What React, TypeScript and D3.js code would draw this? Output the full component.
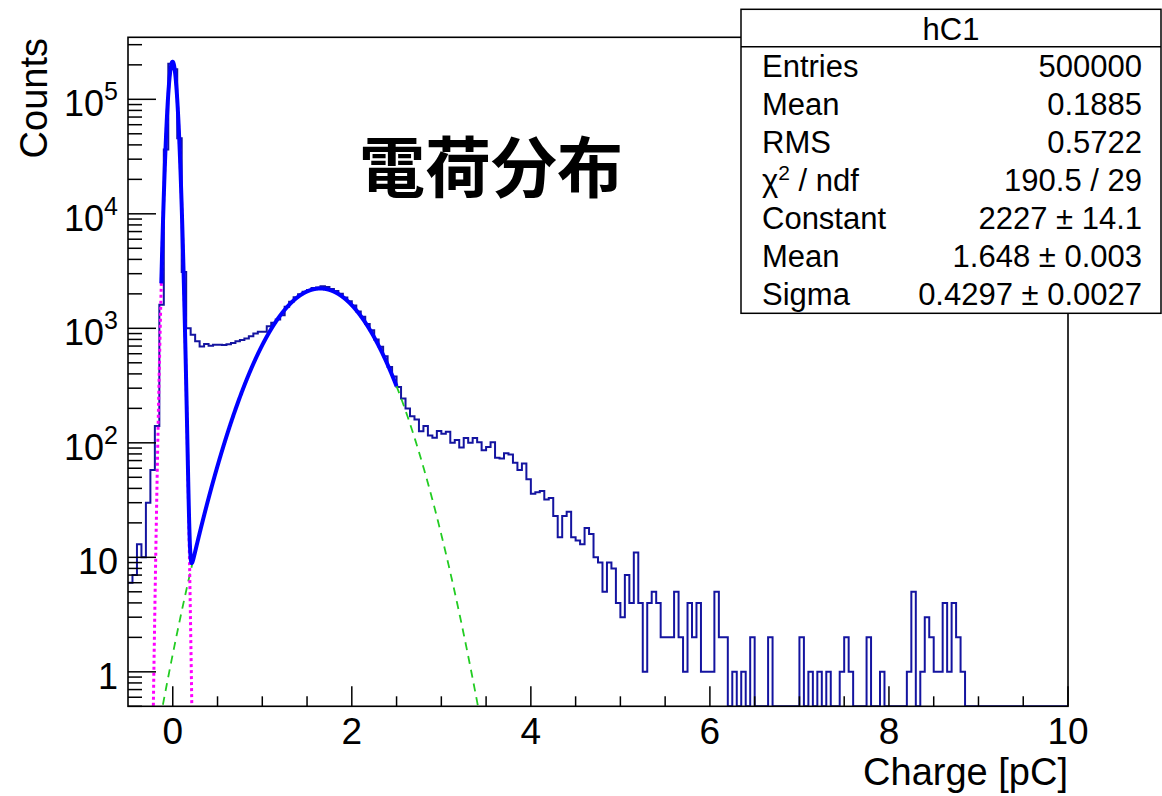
import React from 'react';
import * as d3 from 'd3';

const WIDTH = 1162;
const HEIGHT = 796;

// histogram binning
const X_MIN = -0.5;
const X_MAX = 10;
const BIN_WIDTH = 0.05;
const Y_MIN = 0.5;
const Y_MAX = 3.48e5;

// bin contents (210 bins of 0.05 pC from -0.5 to 10)
const countsPedestal = [6, 7, 13, 10, 30, 58, 140, 1610, 36500, 204000, 183000, 45600, 3110, 1000];
const countsValley = [880, 770, 695, 730, 705, 718, 720, 715, 725, 745, 770, 790, 815, 853, 901, 932, 935, 1044, 1116, 1195, 1300];
const countsSignal = [1540, 1710, 1870, 1980, 2090, 2160, 2250, 2270, 2335, 2290, 2210, 2120, 2000, 1860, 1720, 1580, 1400, 1260, 1090, 960, 800, 690, 570, 460, 380];
const countsShoulder = [308, 244, 199, 171, 160, 126, 140, 116, 111, 127, 120, 125, 100, 106, 91, 110, 100, 110, 101, 86, 92, 101, 74, 73, 81, 79, 67, 58, 66, 48, 36, 37, 38, 32, 33, 23, 15, 23, 25, 15, 14, 13, 18, 16, 10];
const countsTailA = [9, 5, 9, 8, 4, 3, 7, 4, 11, 4, 1, 4, 5, 4, 2, 2, 2, 5, 2, 1, 4, 2, 4, 1, 1];
const countsTailB = [1, 5, 2, 2, 0, 1, 0, 1, 0, 2, 0, 0, 0, 2, 0, 0, 0, 0, 0, 0, 2, 0, 1, 0, 1, 0, 1, 0, 0, 1];
const countsTailC = [2, 1, 0, 0, 0, 2, 0, 0, 1, 0, 0, 0, 0, 0, 1, 5, 0, 1, 3, 2, 1, 1, 4, 1, 4, 2, 1];
const countsTailD = [0, 0, 0, 0, 0, 0, 0, 0, 0, 0, 0, 0, 0, 0, 0, 0, 0, 0, 0, 0, 0, 0, 0];

const counts = [
  ...countsPedestal, ...countsValley, ...countsSignal, ...countsShoulder,
  ...countsTailA, ...countsTailB, ...countsTailC, ...countsTailD,
];

// fit parameters: [constant, mean, sigma]
const pedestalFit = [213000, -0.002, 0.0422];
const signalFit = [2227, 1.648, 0.4297];
const totalFitRange = [-0.128, 2.5];
const pedestalDrawRange = [-0.3, 0.3];
const signalDrawRange = [-0.25, 3.7];

// axes
const xMajorTicks = [0, 2, 4, 6, 8, 10];
const xMinorTicks = [0.5, 1, 1.5, 2.5, 3, 3.5, 4.5, 5, 5.5, 6.5, 7, 7.5, 8.5, 9, 9.5];
const yDecades = [0.1, 1, 10, 100, 1000, 10000, 100000];
const yLabelValues = [1, 10, 100, 1000, 10000, 100000];
const yLabelBases = ['1', '10', '10', '10', '10', '10'];
const yLabelExps = ['', '', '2', '3', '4', '5'];

// stats box
const statsTitle = 'hC1';
const statsLabels = ['Entries', 'Mean', 'RMS', 'CHI', 'Constant', 'Mean', 'Sigma'];
const statsValues = ['500000', '0.1885', '0.5722', '190.5 / 29', '2227 \u00b1 14.1', '1.648 \u00b1 0.003', '0.4297 \u00b1 0.0027'];

const FONT = "'Liberation Sans', Arial, Helvetica, sans-serif";

const gauss = (p: number[], t: number) => p[0] * Math.exp(-0.5 * ((t - p[1]) / p[2]) ** 2);

export default function App() {
  const left = 128, right = 1068, top = 37.3, bottom = 706.3;
  const x = d3.scaleLinear().domain([X_MIN, X_MAX]).range([left, right]);
  const y = d3.scaleLog().domain([Y_MIN, Y_MAX]).range([bottom, top]);

  const histPts: [number, number][] = [];
  counts.forEach((c, i) => {
    const x0 = X_MIN + i * BIN_WIDTH;
    const x1 = x0 + BIN_WIDTH;
    const v = Math.max(c, Y_MIN);
    histPts.push([x0, v], [x1, v]);
  });
  const line = d3.line<[number, number]>().x(d => x(d[0])).y(d => y(Math.max(d[1], 1e-4)));
  const histPath = line(histPts) || '';

  const sample = (r: number[], step: number, f: (t: number) => number) => {
    const pts: [number, number][] = d3.range(r[0], r[1], step).map(t => [t, f(t)] as [number, number]);
    pts.push([r[1], f(r[1])]);
    return pts;
  };
  const bluePath = line(sample(totalFitRange, 0.001, t => gauss(pedestalFit, t) + gauss(signalFit, t))) || '';
  const magentaPath = line(sample(pedestalDrawRange, 0.0005, t => gauss(pedestalFit, t))) || '';
  const greenPath = line(sample(signalDrawRange, 0.005, t => gauss(signalFit, t))) || '';

  const yTicks: { v: number; major: boolean }[] = [];
  yDecades.forEach(d => {
    for (let m = 1; m <= 9; m++) {
      const v = m * d;
      if (v >= Y_MIN * 0.999 && v <= Y_MAX) yTicks.push({ v, major: m === 1 });
    }
  });

  const boxL = 741, boxR = 1161, boxT = 9.3, boxB = 313.3, headB = 46.7;
  const rowH = (boxB - headB) / statsLabels.length;

  return (
    <svg width={WIDTH} height={HEIGHT} style={{ position: 'absolute', left: 0, top: 0, background: '#fff' }}
      xmlns="http://www.w3.org/2000/svg">
      <defs>
        <clipPath id="frameClip">
          <rect x={left} y={top} width={right - left} height={bottom - top} />
        </clipPath>
      </defs>
      <rect x={0} y={0} width={WIDTH} height={HEIGHT} fill="#fff" />

      <g clipPath="url(#frameClip)">
        <path d={histPath} fill="none" stroke="#1414a0" strokeWidth={2} />
        <path d={greenPath} fill="none" stroke="#22cc22" strokeWidth={1.8} strokeDasharray="8 6" />
        <path d={magentaPath} fill="none" stroke="#ff00ff" strokeWidth={3} strokeDasharray="3 3" />
        <path d={bluePath} fill="none" stroke="#0000ff" strokeWidth={4} strokeLinejoin="round" />
      </g>

      {/* frame */}
      <rect x={left} y={top} width={right - left} height={bottom - top} fill="none" stroke="#000" strokeWidth={1.6} />

      {/* y ticks */}
      {yTicks.map((t, i) => (
        <line key={'yt' + i} x1={left} x2={left + (t.major ? 28 : 14)} y1={y(t.v)} y2={y(t.v)} stroke="#000" strokeWidth={1.5} />
      ))}
      {/* x ticks */}
      {xMajorTicks.map(t => (
        <line key={'xM' + t} x1={x(t)} x2={x(t)} y1={bottom} y2={bottom - 20} stroke="#000" strokeWidth={1.5} />
      ))}
      {xMinorTicks.map(t => (
        <line key={'xm' + t} x1={x(t)} x2={x(t)} y1={bottom} y2={bottom - 10} stroke="#000" strokeWidth={1.5} />
      ))}

      {/* y labels */}
      {yLabelValues.map((v, i) => (
        <text key={'yl' + i} x={118} y={y(v) + 17} textAnchor="end" fontFamily={FONT} fontSize={36} fill="#000">
          {yLabelBases[i]}
          {yLabelExps[i] ? <tspan dy={-16} fontSize={25}>{yLabelExps[i]}</tspan> : null}
        </text>
      ))}
      {/* x labels */}
      {xMajorTicks.map(t => (
        <text key={'xl' + t} x={x(t)} y={744} textAnchor="middle" fontFamily={FONT} fontSize={37} fill="#000">{t}</text>
      ))}

      {/* axis titles */}
      <text x={right} y={785} textAnchor="end" fontFamily={FONT} fontSize={38} fill="#000">Charge [pC]</text>
      <text transform="translate(47,38) rotate(-90)" textAnchor="end" fontFamily={FONT} fontSize={38} fill="#000">Counts</text>

      {/* title */}
      <text x={491} y={192} textAnchor="middle" fontFamily="'Noto Sans CJK JP', 'Noto Sans CJK SC', sans-serif"
        fontWeight="bold" fontSize={66} fill="#000">電荷分布</text>

      {/* stats box */}
      <rect x={boxL} y={boxT} width={boxR - boxL} height={boxB - boxT} fill="#fff" stroke="#000" strokeWidth={1.5} />
      <line x1={boxL} x2={boxR} y1={headB} y2={headB} stroke="#000" strokeWidth={1.5} />
      <text x={951} y={39.5} textAnchor="middle" fontFamily={FONT} fontSize={31} fill="#000">{statsTitle}</text>
      {statsLabels.map((lab, i) => {
        const by = headB + rowH * (i + 0.5) + 11;
        return (
          <g key={'st' + i}>
            <text x={762} y={by} fontFamily={FONT} fontSize={31} fill="#000">
              {lab === 'CHI' ? (
                <>
                  {'\u03c7'}
                  <tspan dy={-11} fontSize={21}>2</tspan>
                  <tspan dy={11}>{' / ndf'}</tspan>
                </>
              ) : lab}
            </text>
            <text x={1142} y={by} textAnchor="end" fontFamily={FONT} fontSize={31} fill="#000">{statsValues[i]}</text>
          </g>
        );
      })}
    </svg>
  );
}
